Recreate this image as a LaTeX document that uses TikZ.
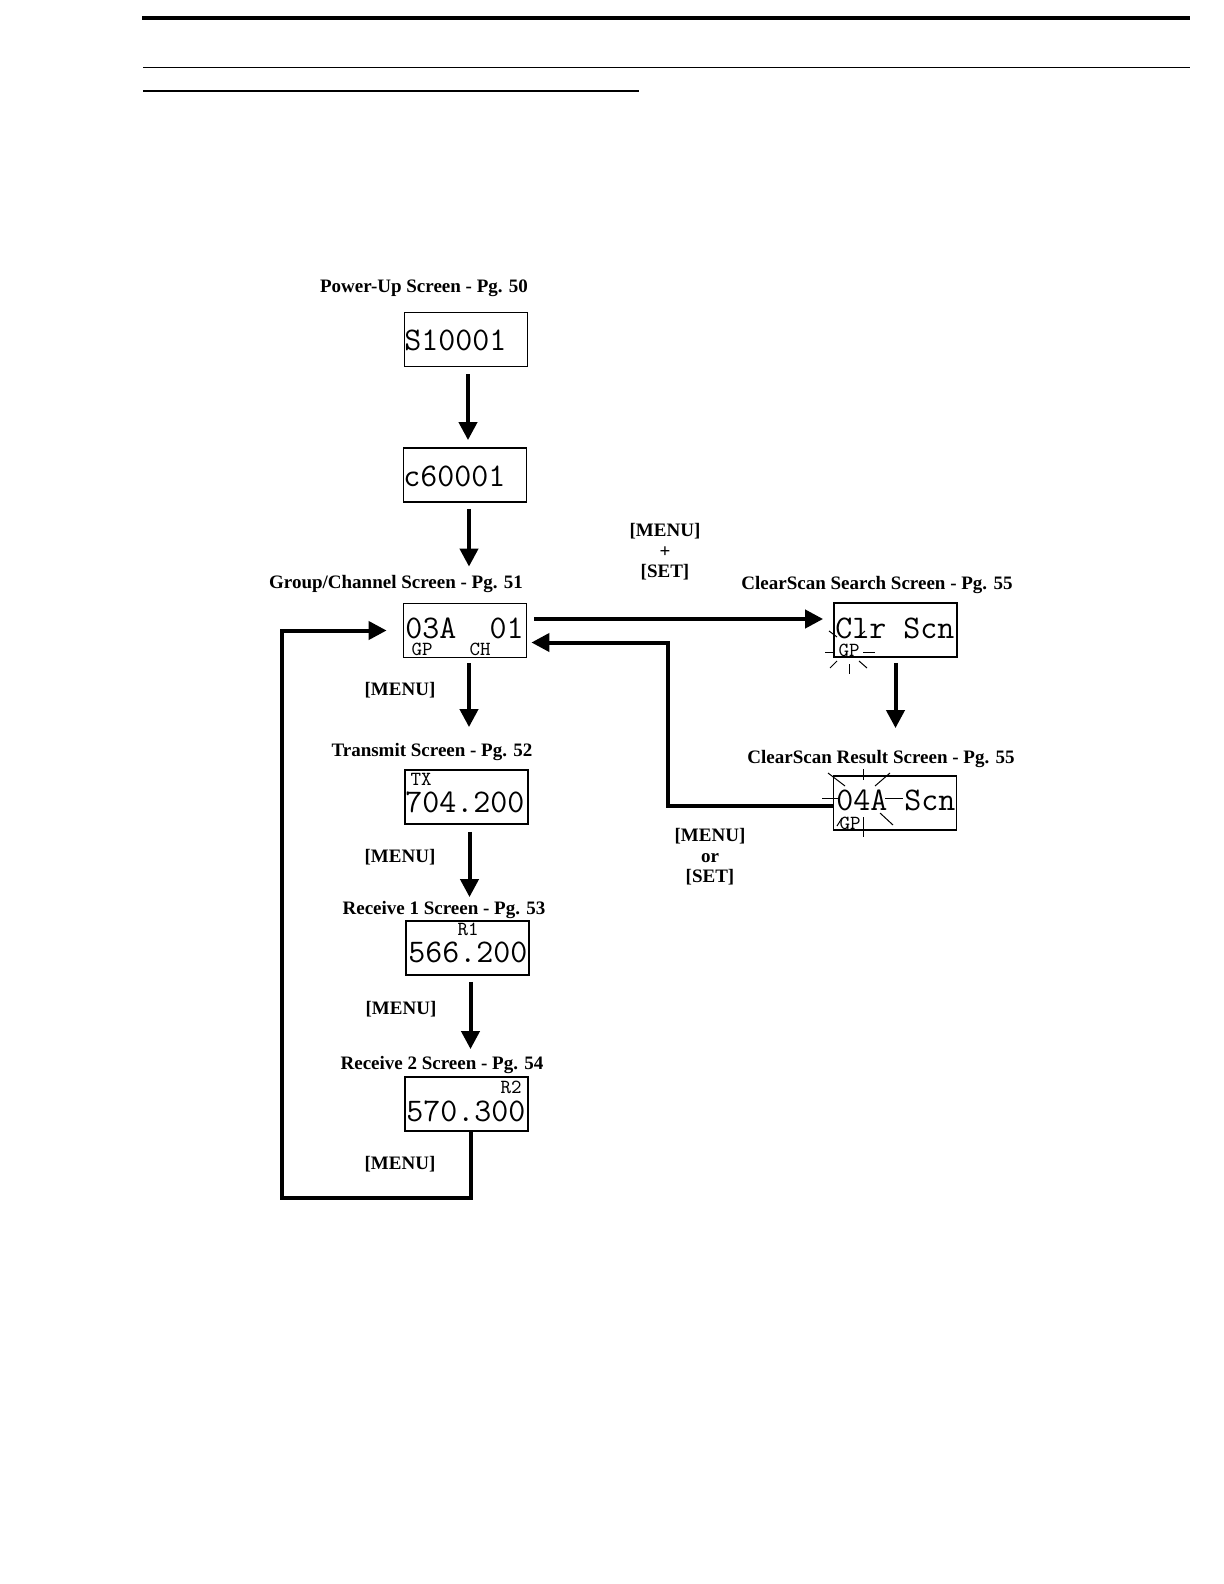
\documentclass[tikz,border=0pt]{standalone}
\usepackage{fontspec}
\setmainfont{Liberation Serif}
\usetikzlibrary{arrows.meta}
\newcommand{\ttlfont}{\fontsize{9.5}{11}\selectfont\bfseries}
\tikzset{
  scr/.style={draw, line width=0.9pt, minimum width=61.5pt, minimum height=27pt, inner sep=0pt},
  lcd/.style={font=\fontsize{16.5}{16.5}\selectfont\ttfamily, inner sep=0pt, anchor=west, text height=10pt, text depth=0pt},
  tag/.style={font=\fontsize{10}{10}\selectfont\ttfamily, inner sep=0pt, text height=6pt, text depth=0pt},
  ttl/.style={font=\ttlfont, inner sep=0pt},
  key/.style={font=\ttlfont, inner sep=0pt, align=center},
  flow/.style={line width=2pt, -{Triangle[length=9pt, width=9pt]}},
  spark/.style={line width=0.5pt}
}
\begin{document}
\begin{tikzpicture}[x=0.5pt, y=-0.5pt]
    \useasboundingbox (0,0) rectangle (1224,1584);
    % 見出しの線
    \draw[line width=2.2pt] (142,18) -- (1190,18);
    \draw[line width=0.7pt] (143,67.5) -- (1190,67.5);
    \draw[line width=0.7pt] (143,91) -- (639,91);
    % 見出し
    \node[ttl] (t1) at (424,288) {Power-Up Screen - Pg. 50};
    \node[ttl] (t3) at (396,584) {Group/Channel Screen - Pg. 51};
    \node[ttl] (t4) at (432,752) {Transmit Screen - Pg. 52};
    \node[ttl] (t5) at (444,910) {Receive 1 Screen - Pg. 53};
    \node[ttl] (t6) at (442,1065) {Receive 2 Screen - Pg. 54};
    \node[ttl] (t7) at (877,585) {ClearScan Search Screen - Pg. 55};
    \node[ttl] (t8) at (881,759) {ClearScan Result Screen - Pg. 55};
    % 画面
    \node[scr] (b1) at (466,339.5) {};
    \node[scr] (b2) at (465,475) {};
    \node[scr] (b3) at (465,630.5) {};
    \node[scr] (b4) at (466.5,797) {};
    \node[scr] (b5) at (467.5,948) {};
    \node[scr] (b6) at (466.5,1104) {};
    \node[scr] (b7) at (895.5,630) {};
    \node[scr] (b8) at (895,803) {};
    % 画面の文字
    \node[lcd] (s1) at (404,340) {S10001};
    \node[lcd] (s2) at (403,476) {c60001};
    \node[lcd] (s3) at (405,628) {03A};
    \node[lcd, anchor=east] (s3b) at (524,628) {01};
    \node[tag] (gp3) at (422,649) {GP};
    \node[tag] (ch3) at (480,649) {CH};
    \node[tag] (tx4) at (421,779) {TX};
    \node[lcd] (s4) at (405,802) {704.200};
    \node[tag] (r15) at (468,929) {R1};
    \node[lcd] (s5) at (408,952) {566.200};
    \node[tag] (r26) at (511,1087) {R2};
    \node[lcd] (s6) at (406,1111) {570.300};
    \node[lcd] (s7) at (835,628) {Clr Scn};
    \node[tag] (gp7) at (849,650) {GP};
    \node[lcd] (s8) at (836,800) {04A Scn};
    \node[tag] (gp8) at (850,823) {GP};
    % 点滅
    \draw[spark] (825,652) -- (835,652) (863,652) -- (875,652);
    \draw[spark] (849,664) -- (849,674);
    \draw[spark] (830,668) -- (837,661) (859,661) -- (867,668);
    \draw[spark] (829,631) -- (837,637) (865,631) -- (858,637);
    \draw[spark] (828,773) -- (845,786) (890,773) -- (875,786);
    \draw[spark] (863,769) -- (863,780) (863,817) -- (863,837);
    \draw[spark] (822,798) -- (840,798) (885,798) -- (903,798);
    \draw[spark] (880,813) -- (893,825) (837,826) -- (842,818);
    % キー
    \node[key] (k1) at (665,552) {[MENU]\\[-0.7pt]+\\[-0.7pt][SET]};
    \node[key] (k2) at (710,857) {[MENU]\\[-0.7pt]or\\[-0.7pt][SET]};
    \node[key] (m3) at (400,690) {[MENU]};
    \node[key] (m4) at (400,857) {[MENU]};
    \node[key] (m5) at (401,1009) {[MENU]};
    \node[key] (m6) at (400,1164) {[MENU]};
    % 矢印
    \draw[flow, shorten <=3.5pt, shorten >=3.5pt] ([xshift=1pt]b1.south) -- ([xshift=1pt]b1.south |- b2.north);
    \draw[flow, shorten <=3pt, shorten >=18pt] ([xshift=2pt]b2.south) -- ([xshift=2pt]b2.south |- b3.north);
    \draw[flow, shorten <=2.5pt, shorten >=21pt] ([xshift=2pt]b3.south) -- ([xshift=2pt]b3.south |- b4.north);
    \draw[flow, shorten <=3.5pt, shorten >=11.5pt] ([xshift=1.5pt]b4.south) -- ([xshift=1.5pt]b4.south |- b5.north);
    \draw[flow, shorten <=3pt, shorten >=13.5pt] ([xshift=1.5pt]b5.south) -- ([xshift=1.5pt]b5.south |- b6.north);
    \draw[flow, shorten <=2.5pt, shorten >=23.5pt] (b7.south) -- (b7.south |- b8.north);
    \draw[flow, shorten <=3.5pt, shorten >=5pt] ([yshift=5.75pt]b3.east) -- ([yshift=5.75pt]b3.east -| b7.west);
    \draw[flow, shorten >=2pt] ([yshift=-1.5pt]b8.west) -- ++(-165,0) |- ([yshift=-6pt]b3.east);
    \draw[flow, shorten >=8pt] ([xshift=2pt]b6.south) -- ++(0,66) -- ++(-189,0) |- (b3.west);
\end{tikzpicture}
\end{document}
